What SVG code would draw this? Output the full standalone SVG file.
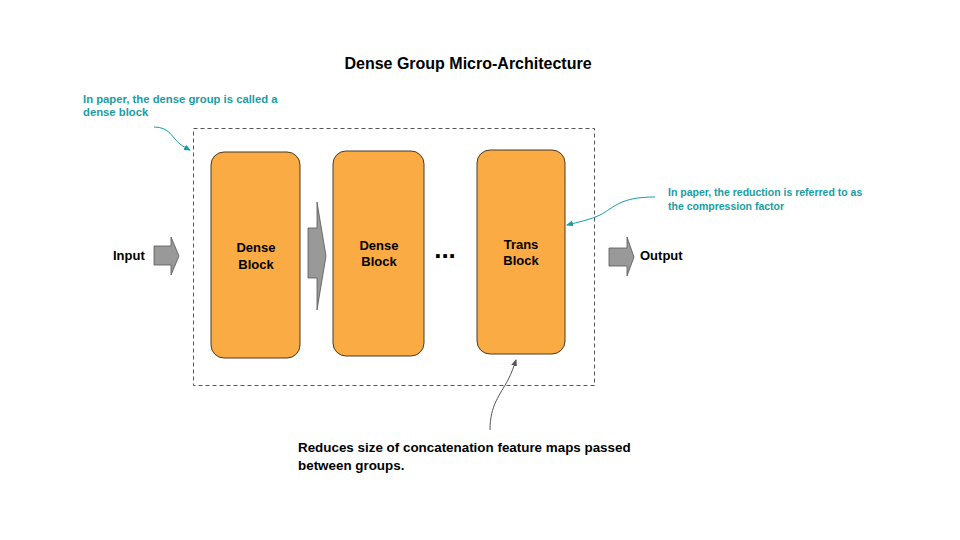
<svg xmlns="http://www.w3.org/2000/svg" width="960" height="540" viewBox="0 0 960 540">
<style>
.t{font-family:"Liberation Sans",Arial,sans-serif;font-weight:bold;fill:#000}
.teal{font-family:"Liberation Sans",Arial,sans-serif;font-weight:bold;fill:#1a9ca3}
.blk{fill:#fbab44;stroke:#4a3a24;stroke-width:1}
.arr{fill:#999999;stroke:#555555;stroke-width:0.8}
</style>
<defs>
<marker id="mt" markerWidth="8" markerHeight="8" refX="6" refY="4" orient="auto" markerUnits="userSpaceOnUse"><path d="M0,1 L7,4 L0,7 Z" fill="#1a9ca3"/></marker>
<marker id="mg" markerWidth="8" markerHeight="8" refX="6" refY="4" orient="auto" markerUnits="userSpaceOnUse"><path d="M0,1 L7,4 L0,7 Z" fill="#555555"/></marker>
</defs>
<rect width="960" height="540" fill="#ffffff"/>
<text class="t" x="468" y="69" font-size="16" text-anchor="middle">Dense Group Micro-Architecture</text>
<g id="group">
<rect x="193.5" y="128.5" width="401" height="257" fill="none" stroke="#555555" stroke-width="1" stroke-dasharray="4,3"/>
</g>
<g id="block1">
<rect class="blk" x="211" y="152" width="89" height="206" rx="13"/>
<text class="t" x="256" y="252" font-size="13" text-anchor="middle">Dense</text>
<text class="t" x="256" y="269" font-size="13" text-anchor="middle">Block</text>
</g>
<g id="block2">
<rect class="blk" x="333" y="151" width="91" height="205" rx="13"/>
<text class="t" x="379" y="250" font-size="13" text-anchor="middle">Dense</text>
<text class="t" x="379" y="266" font-size="13" text-anchor="middle">Block</text>
</g>
<g id="block3">
<rect class="blk" x="477" y="150" width="88" height="204" rx="13"/>
<text class="t" x="521" y="249" font-size="13" text-anchor="middle">Trans</text>
<text class="t" x="521" y="265" font-size="13" text-anchor="middle">Block</text>
</g>
<g id="ellipsis">
<text class="t" x="445" y="258" font-size="26" text-anchor="middle">...</text>
</g>
<g id="input">
<text class="t" x="113" y="260" font-size="13">Input</text>
</g>
<g id="output">
<text class="t" x="640" y="260" font-size="13">Output</text>
</g>
<g id="note-left">
<text class="teal" x="83" y="103" font-size="11.3">In paper, the dense group is called a</text>
<text class="teal" x="83" y="116" font-size="11.3">dense block</text>
</g>
<g id="note-right">
<text class="teal" x="668" y="196" font-size="10.5">In paper, the reduction is referred to as</text>
<text class="teal" x="668" y="210" font-size="10.5">the compression factor</text>
</g>
<g id="note-bottom">
<text class="t" x="298" y="452" font-size="13.4">Reduces size of concatenation feature maps passed</text>
<text class="t" x="298" y="470" font-size="13.4">between groups.</text>
</g>
<g id="connectors">
<path class="arr" d="M154,246 L171,246 L171,237 L179,256 L171,275 L171,265 L154,265 Z"/>
<path class="arr" d="M308,228 L317,228 L317,202 L326,256 L317,310 L317,278 L308,278 Z"/>
<path class="arr" d="M609,248 L627,248 L627,237 L634,257 L627,276 L627,266 L609,266 Z"/>
<path d="M154,127 C170,127 172,138 180,144 C184,147 186,148 190,150" fill="none" stroke="#1a9ca3" stroke-width="1" marker-end="url(#mt)"/>
<path d="M655,197 C620,197 615,207 600,215 C590,220 578,222 567,225" fill="none" stroke="#1a9ca3" stroke-width="1" marker-end="url(#mt)"/>
<path d="M490,430 C490,405 500,395 508,380 C512,372 514,366 516,360" fill="none" stroke="#555555" stroke-width="1" marker-end="url(#mg)"/>
</g>
</svg>
